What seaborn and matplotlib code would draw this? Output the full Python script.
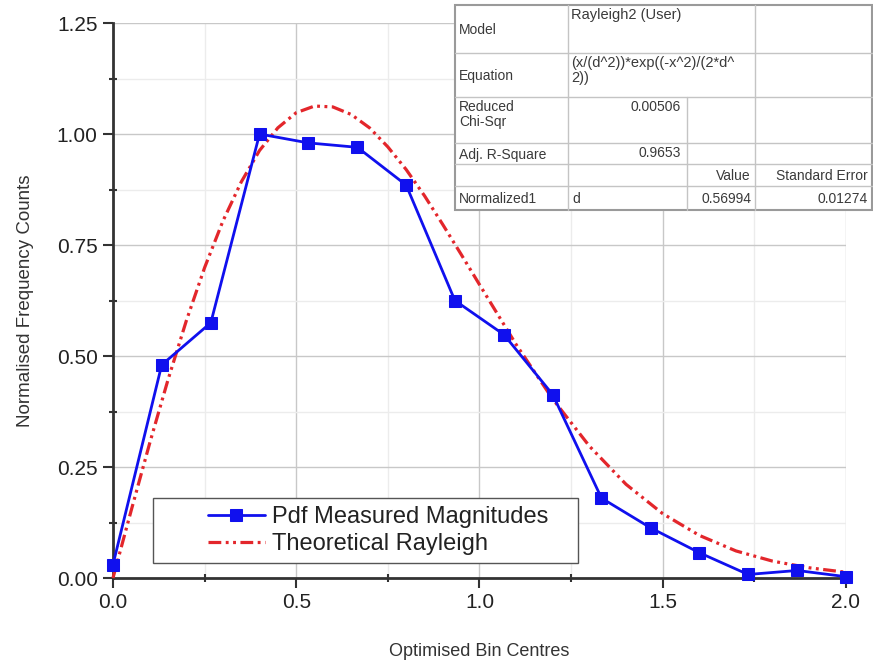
import matplotlib
matplotlib.use("Agg")
import matplotlib.pyplot as plt
from matplotlib.ticker import MultipleLocator
import pandas as pd
import seaborn as sns

# measured pdf
bin_centres = [0.0, 0.133, 0.267, 0.4, 0.533, 0.667, 0.8, 0.933,
               1.067, 1.2, 1.333, 1.467, 1.6, 1.733, 1.867, 2.0]
measured = [0.03, 0.48, 0.575, 1.00, 0.98, 0.97, 0.885, 0.625,
            0.548, 0.413, 0.18, 0.113, 0.057, 0.008, 0.017, 0.003]

# theoretical rayleigh curve
rayleigh_x = [0.0, 0.05, 0.1, 0.15, 0.2, 0.25, 0.3, 0.35, 0.4, 0.45, 0.5,
              0.55, 0.6, 0.65, 0.7, 0.75, 0.8, 0.85, 0.9, 0.95, 1.0,
              1.1, 1.2, 1.3, 1.4, 1.5, 1.6, 1.7, 1.8, 1.9, 2.0]
rayleigh_y = [0.0, 0.153, 0.303, 0.446, 0.579, 0.699, 0.804, 0.892, 0.963, 1.014, 1.048,
              1.063, 1.061, 1.044, 1.014, 0.971, 0.920, 0.861, 0.796, 0.729, 0.661,
              0.526, 0.403, 0.297, 0.211, 0.145, 0.096, 0.061, 0.038, 0.023, 0.013]

# fit report table
table_rows = [
    ["Model", "Rayleigh2 (User)", None, ""],
    ["Equation", "(x/(d^2))*exp((-x^2)/(2*d^\n2))", None, ""],
    ["Reduced\nChi-Sqr", "0.00506", "", ""],
    ["Adj. R-Square", "0.9653", "", ""],
    ["", "", "Value", "Standard Error"],
    ["Normalized1", "d", "0.56994", "0.01274"],
]

sns.set_style("white")
plt.rcParams["font.family"] = ["Liberation Sans", "DejaVu Sans"]

fig = plt.figure(figsize=(8.73, 6.67), dpi=100)
ax = fig.add_axes([0.1294, 0.1334, 0.8396, 0.8321])

meas_df = pd.DataFrame({"x": bin_centres, "y": measured})
ray_df = pd.DataFrame({"x": rayleigh_x, "y": rayleigh_y})

sns.lineplot(data=ray_df, x="x", y="y", ax=ax, color="#e3262b", lw=2.3,
             linestyle=(0, (4, 1.4, 0.9, 1.4, 0.9, 1.4)), label="Theoretical Rayleigh",
             clip_on=False, zorder=3)
sns.lineplot(data=meas_df, x="x", y="y", ax=ax, color="#1010ee", lw=2,
             marker="s", markersize=8, markeredgecolor="#1010ee",
             label="Pdf Measured Magnitudes", clip_on=False, zorder=4)

ax.set_xlim(0, 2.0)
ax.set_ylim(0, 1.25)
ax.xaxis.set_major_locator(MultipleLocator(0.5))
ax.xaxis.set_minor_locator(MultipleLocator(0.25))
ax.yaxis.set_major_locator(MultipleLocator(0.25))
ax.yaxis.set_minor_locator(MultipleLocator(0.125))
ax.set_xticklabels([f"{v:.1f}" for v in ax.get_xticks()])
ax.set_yticklabels([f"{v:.2f}" for v in ax.get_yticks()])

ax.grid(True, which="major", color="#c8c8c8", lw=1)
ax.grid(True, which="minor", color="#ececec", lw=1)
ax.set_axisbelow(True)

for side in ["top", "right"]:
    ax.spines[side].set_visible(False)
for side in ["left", "bottom"]:
    ax.spines[side].set_color("#333333")
    ax.spines[side].set_linewidth(2)

ax.tick_params(which="major", direction="out", length=7, width=1.5,
               color="#333333", labelsize=15, labelcolor="#222222", pad=4,
               bottom=True, left=True)
ax.tick_params(which="minor", direction="inout", length=6, width=1.5,
               color="#333333", bottom=True, left=True)

ax.set_xlabel("Optimised Bin Centres", fontsize=13, color="#333333", labelpad=22)
ax.set_ylabel("Normalised Frequency Counts", fontsize=13.5, color="#333333", labelpad=16)

# legend box is drawn separately, origin-style wide left margin
ax.add_patch(plt.Rectangle((0.0546, 0.027), 0.5794, 0.117, transform=ax.transAxes,
                           facecolor="white", edgecolor="#555555", lw=1, zorder=5))
handles, labels = ax.get_legend_handles_labels()
leg = ax.legend(handles[::-1], labels[::-1], loc="center left",
                bbox_to_anchor=(0.1296, 0.0856), fontsize=17, frameon=False,
                handlelength=2.4, handletextpad=0.3, borderpad=0,
                labelspacing=0.2, borderaxespad=0)
leg.set_zorder(6)
for t in leg.get_texts():
    t.set_color("#222222")

# table drawn in pixel coordinates of the figure
tab = fig.add_axes([0, 0, 1, 1], zorder=10)
tab.set_xlim(0, 873)
tab.set_ylim(667, 0)
tab.axis("off")

col_x = [455, 568, 687, 755, 872]
row_y = [5, 53, 97, 143, 164, 186, 210]
tab.add_patch(plt.Rectangle((col_x[0], row_y[0]), col_x[-1] - col_x[0],
                            row_y[-1] - row_y[0], facecolor="white",
                            edgecolor="#9a9a9a", lw=1.5))
for y in row_y[1:-1]:
    tab.plot([col_x[0], col_x[-1]], [y, y], color="#c4c4c4", lw=1)
for i, x in enumerate(col_x[1:-1], start=1):
    top = row_y[2] if i == 2 else row_y[0]
    tab.plot([x, x], [top, row_y[-1]], color="#c4c4c4", lw=1)

kw = dict(fontsize=10, color="#3a3a3a")
for r, row in enumerate(table_rows):
    y0, y1 = row_y[r], row_y[r + 1]
    for c, txt in enumerate(row):
        if not txt:
            continue
        if r < 2 and c == 1:
            tab.text(col_x[1] + 3, y0 + 3, txt, va="top", linespacing=1.1,
                     fontsize=10.5, color="#3a3a3a")
        elif r == 2 and c == 0:
            tab.text(col_x[0] + 4, y0 + 3, txt, va="top", linespacing=1.1, **kw)
        elif c == 0 or (c == 1 and r == 5):
            tab.text(col_x[c] + 4, (y0 + y1) / 2 + 1, txt, ha="left", va="center", **kw)
        elif r in (2, 3):
            tab.text(col_x[c + 1] - 6, y0 + 3, txt, ha="right", va="top", **kw)
        else:
            tab.text(col_x[c + 1] - 4, (y0 + y1) / 2 + 1, txt, ha="right", va="center", **kw)

fig.savefig("out.png", dpi=100)
